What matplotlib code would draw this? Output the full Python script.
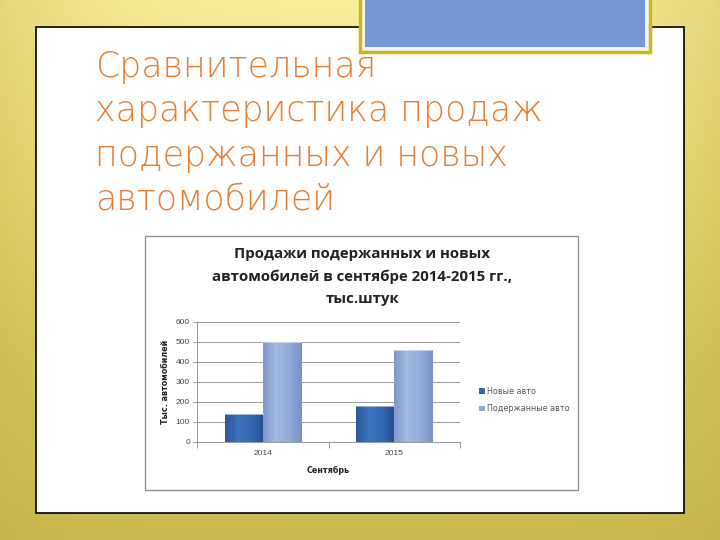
import numpy as np
import matplotlib
matplotlib.use("Agg")
import matplotlib.pyplot as plt
from matplotlib.patches import Rectangle
from matplotlib.colors import LinearSegmentedColormap

# ---- data ----
categories = ["2014", "2015"]
new_cars = [140, 180]
used_cars = [500, 458]
series_names = ["Новые авто", "Подержанные авто"]
yticks = [0, 100, 200, 300, 400, 500, 600]
slide_title = "Сравнительная\nхарактеристика продаж\nподержанных и новых\nавтомобилей"
chart_title = "Продажи подержанных и новых\nавтомобилей в сентябре 2014-2015 гг.,\nтыс.штук"
x_label = "Сентябрь"
y_label = "Тыс. автомобилей"

W, H = 720, 540
fig = plt.figure(figsize=(7.2, 5.4), dpi=100)

def fx(px):
    return px / W

def fy(py):
    return 1 - py / H

# background gradient
bg = fig.add_axes([0, 0, 1, 1], zorder=-10)
bg.set_axis_off()
grad = np.linspace(0, 1, 256).reshape(-1, 1)
bgcmap = LinearSegmentedColormap.from_list("bg", ["#F8EE9C", "#EDE07A", "#D8CB62", "#C8B94E"])
bg.imshow(grad, aspect="auto", cmap=bgcmap, extent=[0, 1, 0, 1], origin="upper")
hgrad = np.abs(np.linspace(-1, 1, 256)).reshape(1, -1) ** 3
bg.imshow(hgrad, aspect="auto", cmap=LinearSegmentedColormap.from_list("h", [(0.8, 0.72, 0.3, 0.0), (0.75, 0.68, 0.25, 0.35)]),
          extent=[0, 1, 0, 1])
bg.set_xlim(0, 1)
bg.set_ylim(0, 1)

# white slide panel
fig.patches.append(Rectangle((fx(36), fy(513)), fx(684) - fx(36), fy(27) - fy(513),
                             transform=fig.transFigure, facecolor="white", edgecolor="black",
                             linewidth=1.2, zorder=-5))
# blue box at top
fig.patches.append(Rectangle((fx(360), fy(52)), fx(650) - fx(360), fy(-5) - fy(52),
                             transform=fig.transFigure, facecolor="#F3F3F0", edgecolor="#C9B81C",
                             linewidth=2.5, zorder=-4))
fig.patches.append(Rectangle((fx(365), fy(47)), fx(645) - fx(365), fy(-5) - fy(47),
                             transform=fig.transFigure, facecolor="#7597D6", edgecolor="none",
                             zorder=-3))

# slide title
fig.text(fx(95), fy(50), slide_title, ha="left", va="top", fontsize=25,
         color="#E57E34", family=["DejaVu Sans"], fontweight=200,
         linespacing=1.38)

# chart frame
fig.patches.append(Rectangle((fx(145), fy(490)), fx(578) - fx(145), fy(236) - fy(490),
                             transform=fig.transFigure, facecolor="white", edgecolor="#8C8C8C",
                             linewidth=0.9, zorder=-2))

fig.text(fx(362), fy(247), chart_title, ha="center", va="top", fontsize=10.8,
         fontweight="bold", color="#222222", family=["Open Sans", "DejaVu Sans"],
         linespacing=1.72)

ax = fig.add_axes([fx(197), fy(442), fx(460) - fx(197), fy(322) - fy(442)])
x = np.arange(len(categories))
bw = 0.29
b1 = ax.bar(x - bw / 2, new_cars, bw, color="#3566AE", zorder=3)
b2 = ax.bar(x + bw / 2, used_cars, bw, color="#8FA7D8", zorder=3)

# gradient shading on bars
cm_new = LinearSegmentedColormap.from_list("n", ["#2C5797", "#3C72BE", "#3468B2", "#24508F"])
cm_used = LinearSegmentedColormap.from_list("u", ["#7F98CC", "#A3B8E2", "#93ABDA", "#7A93C6"])
hg = np.linspace(0, 1, 64).reshape(1, -1)
for bars, cm in ((b1, cm_new), (b2, cm_used)):
    for r in bars:
        x0, w, h = r.get_x(), r.get_width(), r.get_height()
        im = ax.imshow(hg, aspect="auto", cmap=cm, extent=[x0, x0 + w, 0, h], zorder=3.5)
        im.set_clip_path(r)
        ax.plot([x0, x0 + w], [h, h], color="white", alpha=0.6, lw=1.2, zorder=4)

ax.set_xlim(-0.5, len(categories) - 0.5)
ax.set_ylim(0, 600)
ax.set_yticks(yticks)
ax.set_yticklabels([str(v) for v in yticks], fontsize=6, color="#444444",
                   family=["Liberation Sans", "DejaVu Sans"])
ax.set_xticks(x)
ax.set_xticklabels(categories, fontsize=6, color="#444444", family=["Liberation Sans", "DejaVu Sans"])
ax.tick_params(axis="x", length=0, pad=6)
ax.set_xticks(np.arange(-0.5, len(categories), 1.0), minor=True)
ax.tick_params(axis="x", which="minor", length=4, color="#888888", width=0.6)
ax.tick_params(axis="y", length=3, color="#888888", width=0.6, pad=2)
ax.grid(axis="y", color="#8A8A8A", linewidth=0.6, zorder=0)
for s in ("top", "right"):
    ax.spines[s].set_visible(False)
ax.spines["left"].set_color("#888888")
ax.spines["bottom"].set_color("#888888")
ax.spines["left"].set_linewidth(0.6)
ax.spines["bottom"].set_linewidth(0.6)
ax.set_xlabel(x_label, fontsize=5.8, fontweight="bold", labelpad=6, color="#222222")
ax.set_ylabel(y_label, fontsize=5.8, fontweight="bold", labelpad=4, color="#222222")

leg = ax.legend([b1, b2], series_names, loc="center left", bbox_to_anchor=(1.045, 0.35),
                frameon=False, fontsize=5.8, handlelength=0.7, handleheight=0.7,
                handletextpad=0.3, labelspacing=1.1, labelcolor="#555555")

fig.savefig("out.png", dpi=100)
